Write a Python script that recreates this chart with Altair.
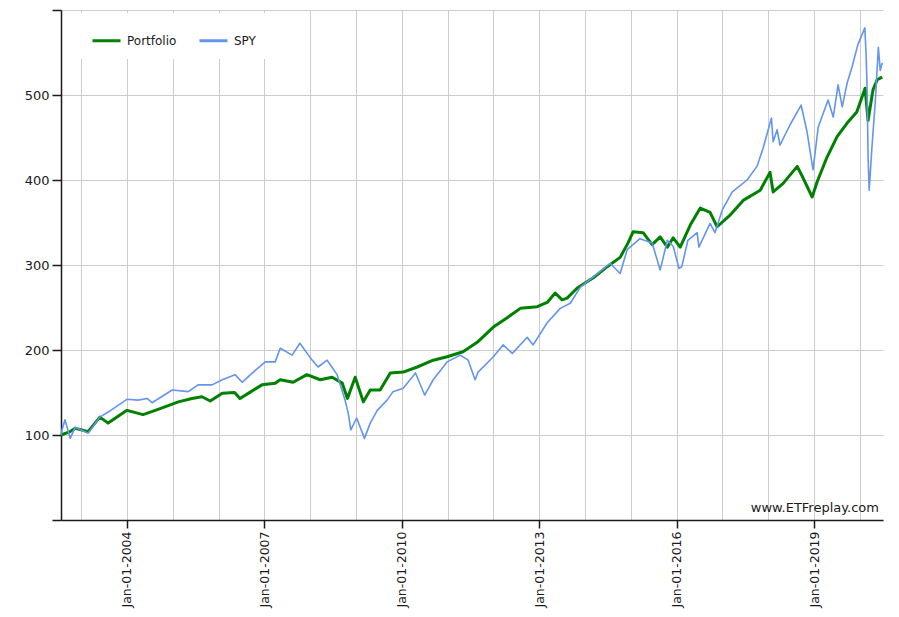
import altair as alt
import pandas as pd

# ---- data ----
portfolio_dates = [
    "2002-07-24", "2002-10-05", "2002-11-14", "2003-02-25", "2003-05-30", "2003-08-04",
    "2004-01-01", "2004-05-08", "2004-08-14", "2005-02-14", "2005-06-02", "2005-08-21",
    "2005-10-26", "2006-01-30", "2006-05-08", "2006-06-20", "2006-08-25", "2006-12-13",
    "2007-03-28", "2007-05-07", "2007-08-18", "2007-12-06", "2008-03-21", "2008-06-24",
    "2008-09-13", "2008-10-24", "2008-12-25", "2009-02-28", "2009-04-24", "2009-07-12",
    "2009-10-01", "2010-01-12", "2010-05-04", "2010-09-08", "2010-12-28", "2011-05-04",
    "2011-08-25", "2012-01-01", "2012-04-20", "2012-08-03", "2012-12-16", "2013-03-05",
    "2013-05-08", "2013-07-02", "2013-08-11", "2013-10-31", "2014-03-08", "2014-06-27",
    "2014-10-08", "2014-12-10", "2015-01-19", "2015-04-09", "2015-06-20", "2015-08-23",
    "2015-10-19", "2015-12-05", "2016-01-30", "2016-04-19", "2016-07-08", "2016-09-24",
    "2016-11-19", "2017-03-05", "2017-06-15", "2017-10-29", "2018-01-15", "2018-02-09",
    "2018-04-30", "2018-08-20", "2018-10-07", "2018-12-17", "2019-01-26", "2019-04-15",
    "2019-07-04", "2019-09-22", "2019-12-08", "2020-02-12", "2020-03-07", "2020-04-15",
    "2020-05-19", "2020-06-28",
]
portfolio_values = [
    100, 104, 108, 104, 121, 114,
    129, 124, 129, 139, 143, 145,
    140, 149, 150, 143, 149, 159,
    161, 165, 162, 171, 165, 168,
    161, 143, 168, 139, 153, 153,
    173, 174, 180, 188, 192, 198,
    209, 227, 238, 249, 251, 256,
    267, 259, 261, 273, 285, 298,
    309, 326, 339, 338, 324, 333,
    321, 332, 321, 347, 367, 362,
    345, 359, 376, 388, 409, 386,
    396, 416, 402, 380, 398, 427,
    451, 467, 480, 508, 470, 506,
    518, 521,
]

spy_dates = [
    "2002-07-24", "2002-08-01", "2002-08-25", "2002-10-05", "2002-11-14", "2003-02-25",
    "2003-05-30", "2003-08-04", "2004-01-01", "2004-03-30", "2004-06-10", "2004-07-19",
    "2004-12-27", "2005-05-04", "2005-07-21", "2005-11-10", "2006-01-30", "2006-05-12",
    "2006-07-07", "2006-10-20", "2007-01-08", "2007-03-28", "2007-05-07", "2007-08-10",
    "2007-10-11", "2008-01-01", "2008-03-04", "2008-05-15", "2008-08-03", "2008-10-05",
    "2008-10-30", "2008-11-20", "2009-01-06", "2009-03-09", "2009-04-24", "2009-06-19",
    "2009-09-05", "2009-10-23", "2010-01-12", "2010-04-20", "2010-07-02", "2010-09-08",
    "2010-12-28", "2011-04-12", "2011-06-14", "2011-08-08", "2011-09-01", "2012-01-01",
    "2012-03-18", "2012-05-31", "2012-09-27", "2012-11-13", "2013-03-05", "2013-06-17",
    "2013-09-05", "2013-11-25", "2014-03-08", "2014-07-20", "2014-10-08", "2014-12-03",
    "2015-03-15", "2015-06-20", "2015-08-23", "2015-10-19", "2015-12-05", "2016-01-20",
    "2016-02-11", "2016-03-31", "2016-06-13", "2016-06-27", "2016-09-24", "2016-11-02",
    "2016-12-31", "2017-03-20", "2017-07-16", "2017-10-03", "2017-11-22", "2018-01-26",
    "2018-02-09", "2018-03-13", "2018-04-04", "2018-06-24", "2018-09-20", "2018-10-22",
    "2018-11-07", "2018-12-24", "2019-02-03", "2019-04-23", "2019-06-03", "2019-07-12",
    "2019-08-14", "2019-09-22", "2019-10-31", "2019-12-16", "2020-02-10", "2020-02-20",
    "2020-02-28", "2020-03-07", "2020-03-16", "2020-04-07", "2020-05-03", "2020-05-28",
    "2020-06-12", "2020-06-28",
]
spy_values = [
    100, 106, 118, 96, 109, 102,
    121, 127, 142, 141, 143, 138,
    153, 151, 159, 159, 165, 171,
    162, 176, 186, 186, 202, 194,
    208, 191, 180, 188, 171, 141,
    126, 106, 120, 96, 114, 129,
    141, 151, 155, 173, 147, 165,
    186, 194, 188, 165, 174, 192,
    206, 196, 215, 206, 232, 249,
    255, 274, 286, 302, 290, 318,
    331, 326, 294, 329, 322, 296,
    298, 329, 338, 321, 349, 338,
    365, 386, 400, 416, 438, 473,
    445, 459, 441, 465, 488, 467,
    456, 412, 462, 494, 474, 512,
    486, 514, 533, 559, 579, 549,
    509, 427, 388, 439, 491, 556,
    529, 538,
]

series_names = ["Portfolio", "SPY"]
series_colors = ["#008000", "#6495ED"]
y_ticks = [0, 100, 200, 300, 400, 500, 600]
grid_years = list(range(2003, 2021))
watermark = ["www.ETFreplay.com"]

FONT = "DejaVu Sans"
TXT = "#1a1a1a"

df_p = pd.DataFrame({"date": portfolio_dates, "value": portfolio_values, "series": "Portfolio"})
df_s = pd.DataFrame({"date": spy_dates, "value": spy_values, "series": "SPY"})

x_enc = alt.X(
    "date:T",
    title=None,
    scale=alt.Scale(
        type="utc",
        domain=[alt.DateTime(year=2002, month=7, date=24, utc=True),
                alt.DateTime(year=2020, month=7, date=4, utc=True)],
    ),
    axis=alt.Axis(
        values=[alt.DateTime(year=y, month=1, date=1, utc=True) for y in grid_years],
        labelExpr="utcyear(datum.value) % 3 == 0 ? utcFormat(datum.value, '%b-%d-%Y') : ''",
        labelAngle=-90,
        labelFont=FONT, labelFontSize=12.5, labelColor=TXT,
        labelPadding=3, labelOverlap=False, labelFlush=False,
        tickSize=8, tickWidth=1.5, tickColor=TXT,
        tickOpacity={"condition": {"test": "utcyear(datum.value) % 3 == 0", "value": 1}, "value": 0},
        domainColor=TXT, domainWidth=1.5,
        grid=True, gridColor="#cccccc", gridWidth=1,
    ),
)
y_enc = alt.Y(
    "value:Q",
    title=None,
    scale=alt.Scale(domain=[0, 600], nice=False, zero=True),
    axis=alt.Axis(
        values=y_ticks,
        labelExpr="datum.value == 0 || datum.value == 600 ? '' : datum.label",
        labelFont=FONT, labelFontSize=13, labelColor=TXT, labelPadding=3,
        tickSize=9, tickWidth=1.5, tickColor=TXT,
        domainColor=TXT, domainWidth=1.5,
        grid=True, gridColor="#cccccc", gridWidth=1,
    ),
)
color_enc = alt.Color(
    "series:N",
    scale=alt.Scale(domain=series_names, range=series_colors),
    legend=alt.Legend(
        title=None, orient="none", legendX=18, legendY=3, direction="horizontal",
        symbolType="stroke", symbolSize=784, symbolStrokeWidth=3,
        labelFont=FONT, labelFontSize=12, labelColor=TXT, labelOffset=5,
        columnPadding=16, padding=12, fillColor="white",
    ),
)

green = alt.Chart(df_p).mark_line(strokeJoin="round", strokeWidth=3).encode(
    x=x_enc, y=y_enc, color=color_enc
)
blue = alt.Chart(df_s).mark_line(strokeJoin="round", strokeWidth=1.6).encode(
    x=x_enc, y=y_enc, color=color_enc
)
mark = alt.Chart(pd.DataFrame({"t": watermark})).mark_text(
    align="right", baseline="alphabetic", font=FONT, fontSize=13, color=TXT
).encode(x=alt.value(818), y=alt.value(502), text="t:N")

chart = alt.layer(green, blue, mark).properties(
    width=822, height=510,
    padding={"left": 61, "top": 10, "right": 16, "bottom": 97},
    autosize="none",
    background="white",
).configure_view(stroke=None)

chart.save("out.html", embed_options={"renderer": "svg", "actions": False})
